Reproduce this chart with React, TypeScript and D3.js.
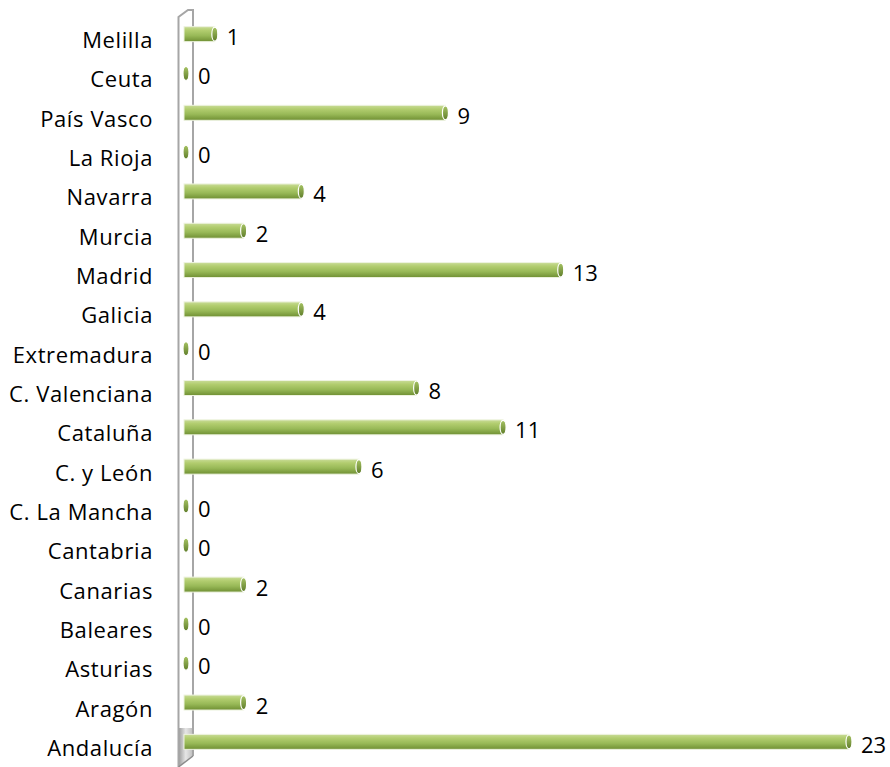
import React from "react";
import * as d3 from "d3";

const categories = [
  "Melilla", "Ceuta", "País Vasco", "La Rioja", "Navarra", "Murcia", "Madrid",
  "Galicia", "Extremadura", "C. Valenciana", "Cataluña", "C. y León",
  "C. La Mancha", "Cantabria", "Canarias", "Baleares", "Asturias", "Aragón", "Andalucía",
];
const values = [1, 0, 9, 0, 4, 2, 13, 4, 0, 8, 11, 6, 0, 0, 2, 0, 0, 2, 23];

const W = 890;
const H = 767;

export default function App() {
  const y = d3.scaleBand<string>().domain(categories).range([15.5, 762.5]);
  const x = d3.scaleLinear().domain([0, 23]).range([186, 849]);
  const barH = 15;
  const barLeft = 184;
  const font = "'Open Sans', Lato, sans-serif";

  return (
    <svg width={W} height={H} style={{ position: "absolute", left: 0, top: 0, display: "block" }}>
      <defs>
        <linearGradient id="cyl" x1="0" y1="0" x2="0" y2="1">
          <stop offset="0" stopColor="#c9dc98" />
          <stop offset="0.25" stopColor="#b2cd6f" />
          <stop offset="0.6" stopColor="#98b957" />
          <stop offset="1" stopColor="#6f8f33" />
        </linearGradient>
        <linearGradient id="cap" x1="0" y1="0" x2="0" y2="1">
          <stop offset="0" stopColor="#a7c464" />
          <stop offset="1" stopColor="#5f7d2a" />
        </linearGradient>
        <linearGradient id="wallfill" x1="0" y1="0" x2="1" y2="0">
          <stop offset="0" stopColor="#9a9a9a" />
          <stop offset="0.5" stopColor="#e6e6e6" />
          <stop offset="1" stopColor="#bdbdbd" />
        </linearGradient>
      </defs>
      <rect width={W} height={H} fill="#ffffff" />

      {/* side wall */}
      <polygon points="178.5,728 193,728 193,756 178.5,767" fill="url(#wallfill)" />
      <path
        d="M178.5,767 L178.5,17 L188,10 L193,10 L193,756"
        fill="none"
        stroke="#a6a6a6"
        strokeWidth={2}
      />
      <line x1={178.5} y1={767} x2={193} y2={756} stroke="#8c8c8c" strokeWidth={1.5} />

      {categories.map((c, i) => {
        const v = values[i];
        const cy = (y(c) as number) + y.bandwidth() / 2 - 1;
        const xe = x(v);
        return (
          <g key={c}>
            <text
              x={153}
              y={cy + 14}
              textAnchor="end"
              fontFamily={font}
              fontSize={22}
              letterSpacing={0.6}
              fill="#000"
            >
              {c}
            </text>
            {v > 0 && (
              <rect
                x={barLeft}
                y={cy - barH / 2}
                width={xe - barLeft}
                height={barH}
                fill="url(#cyl)"
                stroke="#eef3e0"
                strokeWidth={1}
              />
            )}
            <ellipse
              cx={xe}
              cy={cy}
              rx={3}
              ry={barH / 2 - 0.5}
              fill="url(#cap)"
              stroke="#ffffff"
              strokeWidth={1.2}
            />
            <text
              x={xe + 12}
              y={cy + 11}
              fontFamily={font}
              fontSize={22}
              fill="#000"
            >
              {v}
            </text>
          </g>
        );
      })}
    </svg>
  );
}
